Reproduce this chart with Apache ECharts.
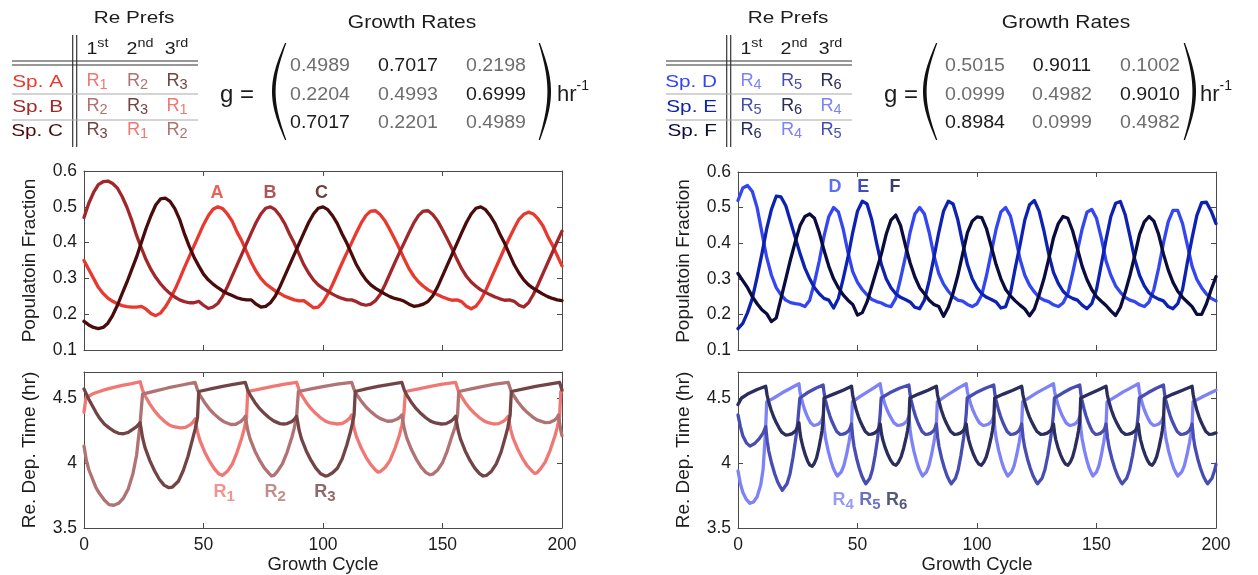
<!DOCTYPE html>
<html><head><meta charset="utf-8">
<script src="https://cdn.jsdelivr.net/npm/echarts@6/dist/echarts.min.js"></script>
<style>html,body{margin:0;padding:0;background:#fff}#c{width:1258px;height:575px}</style>
</head><body><div id="c"></div>
<script>
// ---------------- DATA ----------------
const cycles = [0,2,4,6,8,10,12,14,16,18,20,22,24,26,28,30,32,34,36,38,40,42,44,46,48,50,52,54,56,58,60,62,64,66,68,70,72,74,76,78,80,82,84,86,88,90,92,94,96,98,100,102,104,106,108,110,112,114,116,118,120,122,124,126,128,130,132,134,136,138,140,142,144,146,148,150,152,154,156,158,160,162,164,166,168,170,172,174,176,178,180,182,184,186,188,190,192,194,196,198,200];

const spA = [0.35,0.325,0.30,0.275,0.258,0.245,0.236,0.229,0.224,0.221,0.22,0.22,0.222,0.214,0.202,0.196,0.203,0.22,0.242,0.268,0.298,0.33,0.36,0.39,0.42,0.45,0.475,0.493,0.50,0.495,0.48,0.46,0.43,0.405,0.375,0.345,0.32,0.30,0.285,0.275,0.265,0.258,0.25,0.245,0.24,0.237,0.238,0.228,0.218,0.22,0.234,0.256,0.283,0.313,0.343,0.372,0.40,0.428,0.455,0.476,0.488,0.489,0.478,0.46,0.436,0.41,0.383,0.354,0.327,0.306,0.29,0.278,0.268,0.261,0.254,0.248,0.243,0.239,0.24,0.235,0.222,0.215,0.222,0.24,0.265,0.295,0.325,0.355,0.385,0.413,0.44,0.465,0.479,0.485,0.48,0.466,0.447,0.418,0.393,0.364,0.335];
const spB = [0.47,0.51,0.54,0.562,0.57,0.572,0.565,0.552,0.528,0.498,0.462,0.42,0.385,0.352,0.325,0.303,0.285,0.27,0.258,0.248,0.24,0.235,0.232,0.232,0.236,0.225,0.216,0.22,0.23,0.25,0.277,0.307,0.337,0.367,0.397,0.427,0.456,0.48,0.496,0.50,0.492,0.475,0.453,0.424,0.398,0.368,0.338,0.315,0.296,0.282,0.272,0.264,0.256,0.249,0.244,0.24,0.24,0.235,0.228,0.225,0.228,0.238,0.256,0.283,0.313,0.343,0.372,0.40,0.428,0.455,0.476,0.488,0.489,0.478,0.46,0.436,0.41,0.383,0.354,0.327,0.306,0.29,0.278,0.268,0.261,0.254,0.248,0.243,0.239,0.24,0.236,0.225,0.22,0.232,0.255,0.283,0.313,0.343,0.373,0.403,0.432];
const spC = [0.18,0.17,0.163,0.16,0.163,0.175,0.197,0.225,0.258,0.29,0.325,0.36,0.40,0.44,0.475,0.505,0.522,0.524,0.515,0.495,0.465,0.425,0.39,0.36,0.335,0.312,0.296,0.284,0.274,0.265,0.258,0.252,0.246,0.242,0.24,0.24,0.228,0.22,0.222,0.232,0.25,0.277,0.307,0.337,0.367,0.397,0.427,0.456,0.48,0.496,0.50,0.492,0.475,0.453,0.424,0.398,0.368,0.338,0.315,0.296,0.282,0.272,0.264,0.256,0.249,0.244,0.241,0.236,0.228,0.222,0.224,0.228,0.236,0.252,0.277,0.307,0.337,0.367,0.397,0.427,0.456,0.48,0.496,0.50,0.492,0.475,0.453,0.424,0.398,0.368,0.338,0.315,0.296,0.282,0.272,0.264,0.256,0.249,0.244,0.24,0.238];
const spD = [0.52,0.555,0.562,0.545,0.50,0.43,0.36,0.31,0.275,0.255,0.24,0.233,0.23,0.228,0.222,0.24,0.29,0.35,0.42,0.475,0.50,0.488,0.44,0.375,0.32,0.29,0.27,0.255,0.242,0.236,0.232,0.225,0.222,0.245,0.30,0.36,0.43,0.482,0.50,0.482,0.43,0.365,0.315,0.285,0.265,0.25,0.24,0.237,0.228,0.222,0.23,0.255,0.31,0.375,0.44,0.488,0.50,0.476,0.42,0.355,0.31,0.282,0.263,0.248,0.24,0.236,0.227,0.222,0.232,0.258,0.315,0.378,0.44,0.487,0.495,0.47,0.415,0.35,0.31,0.28,0.262,0.248,0.24,0.236,0.227,0.222,0.235,0.27,0.33,0.40,0.46,0.492,0.492,0.455,0.395,0.335,0.298,0.275,0.257,0.245,0.238];
const spE = [0.16,0.175,0.205,0.245,0.305,0.37,0.44,0.495,0.532,0.53,0.505,0.46,0.415,0.37,0.33,0.30,0.275,0.258,0.245,0.24,0.218,0.245,0.30,0.36,0.43,0.49,0.518,0.51,0.465,0.40,0.34,0.30,0.275,0.258,0.248,0.242,0.235,0.22,0.216,0.24,0.295,0.36,0.43,0.49,0.518,0.51,0.465,0.40,0.34,0.30,0.275,0.258,0.248,0.242,0.235,0.218,0.222,0.26,0.33,0.395,0.465,0.508,0.52,0.49,0.435,0.37,0.318,0.287,0.265,0.252,0.245,0.24,0.226,0.216,0.23,0.27,0.34,0.41,0.475,0.512,0.517,0.48,0.42,0.355,0.31,0.28,0.26,0.25,0.243,0.238,0.222,0.216,0.23,0.27,0.345,0.415,0.478,0.514,0.515,0.49,0.455];
const spF = [0.315,0.295,0.275,0.25,0.23,0.213,0.202,0.18,0.19,0.245,0.30,0.355,0.405,0.45,0.475,0.482,0.47,0.43,0.38,0.335,0.30,0.275,0.255,0.24,0.228,0.198,0.205,0.235,0.28,0.325,0.37,0.425,0.465,0.479,0.45,0.395,0.345,0.305,0.275,0.258,0.24,0.228,0.222,0.195,0.22,0.26,0.31,0.37,0.43,0.462,0.474,0.472,0.44,0.39,0.34,0.30,0.27,0.252,0.238,0.226,0.215,0.196,0.215,0.255,0.30,0.355,0.415,0.455,0.475,0.47,0.435,0.385,0.335,0.298,0.27,0.25,0.237,0.225,0.21,0.197,0.22,0.262,0.31,0.365,0.425,0.46,0.475,0.462,0.425,0.37,0.325,0.29,0.265,0.248,0.235,0.222,0.2,0.2,0.23,0.27,0.306];

const res1 = [[0,4.39],[0.8,4.50],[4,4.535],[8,4.56],[12,4.58],[16,4.597],[20,4.61],[23.5,4.625],[24.5,4.561],[25.5,4.519],[27.5,4.455],[29.5,4.401],[31.5,4.359],[33.5,4.323],[35.5,4.295],[37.5,4.279],[40.5,4.27],[42.5,4.274],[44.5,4.295],[45.5,4.312],[46.5,4.34],[47.5,4.239],[48.5,4.173],[50.5,4.085],[52.5,4.014],[54.5,3.957],[56.5,3.915],[57,3.90],[58,3.905],[60,3.936],[62,3.99],[64,4.08],[66,4.193],[67,4.26],[68,4.35],[68.5,4.55],[74,4.57],[79,4.59],[84,4.606],[89,4.62],[90,4.562],[91,4.524],[93,4.466],[95,4.418],[97,4.38],[99,4.348],[101,4.322],[103,4.308],[106,4.30],[108,4.304],[110,4.325],[111,4.342],[112,4.37],[113,4.269],[114,4.203],[116,4.115],[118,4.044],[120,3.987],[122,3.945],[123,3.93],[124,3.934],[126,3.965],[128,4.018],[130,4.106],[132,4.216],[133,4.29],[133.8,4.37],[134.5,4.55],[140,4.57],[145,4.59],[150,4.606],[155.5,4.62],[156.5,4.562],[157.5,4.524],[159.5,4.466],[161.5,4.418],[163.5,4.38],[165.5,4.348],[167.5,4.322],[169.5,4.308],[171.5,4.30],[173.5,4.303],[175.5,4.321],[176.5,4.336],[177.5,4.36],[178.5,4.259],[179.5,4.193],[181.5,4.105],[183.5,4.034],[185.5,3.977],[187.5,3.938],[188.5,3.92],[189.5,3.924],[191,3.955],[193,4.008],[195,4.096],[197,4.206],[198,4.272],[199,4.36],[199.5,4.55],[200,4.553]];
const res2 = [[0,4.13],[1,4.02],[2,3.95],[3.5,3.88],[5,3.81],[6.5,3.765],[8.5,3.715],[10.5,3.68],[12.5,3.675],[14.5,3.69],[16.5,3.73],[18.5,3.80],[20.5,3.92],[22,4.06],[23.5,4.31],[24.5,4.53],[30,4.555],[35,4.577],[41,4.60],[46.5,4.62],[47.5,4.561],[48.5,4.523],[50.5,4.464],[52.5,4.415],[54.5,4.376],[56.5,4.344],[58.5,4.318],[61.5,4.296],[63.5,4.298],[65.5,4.318],[66.5,4.334],[67.5,4.36],[68.5,4.254],[69.5,4.185],[71.5,4.093],[73.5,4.02],[75.5,3.96],[77.5,3.918],[78.5,3.90],[79.5,3.905],[81,3.937],[83,3.994],[85,4.084],[87,4.20],[88,4.27],[89,4.37],[89.7,4.55],[95,4.57],[100.5,4.59],[106,4.606],[112,4.62],[113,4.566],[114,4.53],[116,4.476],[118,4.431],[120,4.395],[122,4.365],[124,4.341],[127,4.321],[129,4.323],[131,4.338],[132,4.35],[133,4.37],[134,4.264],[135,4.195],[137,4.103],[139,4.03],[141,3.97],[143,3.928],[144.6,3.91],[146,3.915],[148,3.947],[150,4.002],[152,4.094],[154,4.209],[155.3,4.278],[156.3,4.37],[156.8,4.55],[162,4.57],[167,4.59],[172,4.606],[177.5,4.62],[178.5,4.564],[179.5,4.527],[181.5,4.471],[183.5,4.425],[185.5,4.388],[187.5,4.357],[189.5,4.332],[193,4.311],[195,4.313],[197,4.331],[198,4.35],[198.5,4.37],[199.5,4.25],[200,4.21]];
const res3 = [[0,4.57],[1,4.53],[2,4.49],[3.5,4.44],[5,4.39],[6.5,4.345],[8.5,4.30],[10.5,4.27],[12.5,4.245],[14.5,4.228],[16.5,4.225],[18.5,4.235],[20.5,4.26],[22,4.28],[23.5,4.31],[24.5,4.195],[25.5,4.12],[27.5,4.02],[29.5,3.94],[31.5,3.875],[33.5,3.83],[35.5,3.81],[37,3.815],[39.5,3.86],[41.5,3.94],[43.5,4.05],[45.5,4.19],[46.5,4.26],[47.5,4.35],[48,4.55],[53,4.57],[58,4.59],[62.5,4.605],[67.5,4.62],[68.5,4.562],[69.5,4.524],[71.5,4.466],[73.5,4.418],[75.5,4.38],[77.5,4.348],[79.5,4.322],[82,4.303],[83.5,4.30],[85,4.303],[87,4.32],[88,4.336],[89,4.36],[90,4.254],[91,4.185],[93,4.093],[95,4.02],[97,3.96],[99,3.918],[101,3.90],[102,3.903],[104,3.925],[106,3.96],[108,4.03],[110,4.14],[111.5,4.24],[112.5,4.32],[113,4.37],[113.5,4.55],[118,4.57],[123,4.59],[128,4.605],[133,4.62],[134,4.562],[135,4.524],[137,4.466],[139,4.418],[141,4.38],[143,4.348],[145,4.322],[147,4.308],[149.5,4.30],[151.5,4.303],[153.5,4.321],[154.5,4.336],[155.5,4.36],[156.5,4.254],[157.5,4.185],[159.5,4.093],[161.5,4.02],[163.5,3.96],[165.5,3.918],[167,3.90],[168.5,3.905],[170.5,3.937],[172.5,3.994],[174.5,4.084],[176.3,4.20],[177.3,4.27],[178.3,4.37],[178.8,4.55],[184,4.57],[189,4.59],[194,4.605],[199,4.62],[200,4.562]];
const res4 = [[0,3.94],[1,3.84],[2,3.775],[3.5,3.72],[5,3.69],[6.5,3.70],[8,3.74],[9.5,3.83],[10.5,3.95],[11.2,4.15],[11.6,4.28],[12,4.47],[15,4.50],[18.5,4.54],[22,4.575],[25.5,4.61],[25.9,4.552],[26.31,4.514],[27.12,4.456],[27.92,4.408],[28.73,4.37],[29.54,4.338],[30.35,4.309],[31.56,4.29],[32.57,4.292],[33.58,4.298],[34.59,4.315],[35.1,4.332],[35.6,4.36],[36.14,4.254],[36.67,4.185],[37.74,4.093],[38.81,4.02],[39.88,3.96],[40.96,3.918],[41.55,3.90],[42.15,3.904],[43.22,3.932],[44.29,3.98],[45.36,4.06],[46.43,4.16],[46.96,4.22],[47.5,4.30],[47.9,4.47],[51,4.51],[54,4.545],[57,4.58],[59.5,4.61],[59.98,4.552],[60.46,4.514],[61.42,4.456],[62.38,4.408],[63.34,4.37],[64.3,4.338],[65.26,4.309],[66.7,4.29],[67.9,4.292],[69.1,4.298],[70.3,4.315],[70.9,4.332],[71.5,4.36],[72.02,4.254],[72.54,4.185],[73.57,4.093],[74.61,4.02],[75.64,3.96],[76.68,3.918],[77.25,3.90],[77.83,3.904],[78.86,3.932],[79.9,3.98],[80.93,4.06],[81.97,4.16],[82.48,4.22],[83,4.30],[83.4,4.47],[86.5,4.51],[89.5,4.545],[92.5,4.58],[95.5,4.61],[95.96,4.552],[96.42,4.514],[97.34,4.456],[98.26,4.408],[99.18,4.37],[100.1,4.338],[101.02,4.309],[102.4,4.29],[103.55,4.292],[104.7,4.298],[105.85,4.315],[106.43,4.332],[107,4.36],[107.53,4.254],[108.05,4.185],[109.11,4.093],[110.16,4.02],[111.21,3.96],[112.27,3.918],[112.85,3.90],[113.44,3.904],[114.49,3.932],[115.54,3.98],[116.59,4.06],[117.65,4.16],[118.17,4.22],[118.7,4.30],[119.1,4.47],[122.5,4.51],[125.5,4.545],[129,4.58],[132,4.61],[132.44,4.552],[132.88,4.514],[133.76,4.456],[134.64,4.408],[135.52,4.37],[136.4,4.338],[137.28,4.309],[138.6,4.29],[139.7,4.292],[140.8,4.298],[141.9,4.315],[142.45,4.332],[143,4.36],[143.5,4.254],[143.99,4.185],[144.98,4.093],[145.97,4.02],[146.96,3.96],[147.95,3.918],[148.5,3.90],[149.05,3.904],[150.04,3.932],[151.03,3.98],[152.02,4.06],[153.01,4.16],[153.51,4.22],[154,4.30],[154.4,4.47],[158,4.51],[161,4.545],[164.5,4.58],[167.5,4.61],[167.92,4.552],[168.34,4.514],[169.18,4.456],[170.02,4.408],[170.86,4.37],[171.7,4.338],[172.54,4.309],[173.8,4.29],[174.85,4.292],[175.9,4.298],[176.95,4.315],[177.48,4.332],[178,4.36],[178.54,4.254],[179.08,4.185],[180.16,4.093],[181.24,4.02],[182.32,3.96],[183.4,3.918],[184,3.90],[184.6,3.904],[185.68,3.932],[186.76,3.98],[187.84,4.06],[188.92,4.16],[189.46,4.22],[190,4.30],[190.4,4.47],[195,4.515],[200,4.56]];
const res5 = [[0,4.37],[1,4.28],[2,4.21],[3.5,4.155],[5,4.13],[7,4.15],[9,4.19],[10.5,4.23],[11.6,4.28],[12.23,4.167],[12.85,4.094],[14.1,3.996],[15.35,3.917],[16.6,3.854],[17.86,3.81],[18.55,3.79],[19.25,3.796],[20.5,3.84],[21.75,3.916],[23.0,4.042],[24.25,4.2],[24.88,4.294],[25.5,4.42],[25.9,4.50],[29,4.54],[32.5,4.575],[35.6,4.60],[36.08,4.532],[36.55,4.486],[37.5,4.418],[38.46,4.361],[39.41,4.315],[40.36,4.277],[41.31,4.243],[42.74,4.22],[43.93,4.222],[45.12,4.23],[46.31,4.248],[46.91,4.268],[47.5,4.30],[48.04,4.194],[48.58,4.125],[49.66,4.033],[50.74,3.96],[51.82,3.90],[52.9,3.858],[53.5,3.84],[54.1,3.845],[55.18,3.883],[56.26,3.948],[57.34,4.056],[58.42,4.191],[58.96,4.272],[59.5,4.38],[59.9,4.50],[63.5,4.54],[67.5,4.575],[71.5,4.60],[71.96,4.532],[72.42,4.486],[73.34,4.418],[74.26,4.361],[75.18,4.315],[76.1,4.277],[77.02,4.243],[78.4,4.22],[79.55,4.222],[80.7,4.23],[81.85,4.248],[82.43,4.268],[83,4.30],[83.56,4.194],[84.13,4.125],[85.25,4.033],[86.38,3.96],[87.5,3.90],[88.63,3.858],[89.25,3.84],[89.88,3.845],[91,3.883],[92.13,3.948],[93.25,4.056],[94.38,4.191],[94.94,4.272],[95.5,4.38],[95.9,4.50],[99.5,4.54],[103.5,4.575],[107,4.60],[107.47,4.532],[107.94,4.486],[108.87,4.418],[109.81,4.361],[110.74,4.315],[111.68,4.277],[112.62,4.243],[114.02,4.22],[115.19,4.222],[116.36,4.23],[117.53,4.248],[118.12,4.268],[118.7,4.30],[119.3,4.194],[119.9,4.125],[121.09,4.033],[122.29,3.96],[123.49,3.90],[124.69,3.858],[125.35,3.84],[126.02,3.845],[127.21,3.883],[128.41,3.948],[129.61,4.056],[130.8,4.191],[131.4,4.272],[132,4.38],[132.4,4.50],[136,4.54],[139.5,4.575],[143,4.60],[143.44,4.532],[143.88,4.486],[144.76,4.418],[145.64,4.361],[146.52,4.315],[147.4,4.277],[148.28,4.243],[149.6,4.22],[150.7,4.222],[151.8,4.23],[152.9,4.248],[153.45,4.268],[154,4.30],[154.61,4.194],[155.22,4.125],[156.43,4.033],[157.65,3.96],[158.86,3.90],[160.08,3.858],[160.75,3.84],[161.43,3.845],[162.64,3.883],[163.86,3.948],[165.07,4.056],[166.29,4.191],[166.89,4.272],[167.5,4.38],[167.9,4.50],[171.5,4.54],[175,4.575],[178,4.60],[178.48,4.532],[178.96,4.486],[179.92,4.418],[180.88,4.361],[181.84,4.315],[182.8,4.277],[183.76,4.243],[185.2,4.22],[186.4,4.222],[187.6,4.23],[188.8,4.248],[189.4,4.268],[190,4.30],[190.59,4.194],[191.17,4.125],[192.34,4.033],[193.51,3.96],[194.68,3.90],[195.85,3.858],[196.5,3.84],[197.15,3.845],[198.32,3.883],[199.49,3.948],[200,3.99]];
const res6 = [[0,4.45],[1.5,4.50],[4,4.53],[8,4.565],[11.6,4.59],[12.16,4.523],[12.71,4.478],[13.82,4.41],[14.94,4.354],[16.05,4.309],[17.16,4.271],[18.27,4.238],[19.94,4.215],[21.33,4.218],[22.72,4.226],[24.11,4.248],[24.81,4.272],[25.5,4.31],[25.95,4.232],[26.41,4.181],[27.32,4.113],[28.23,4.058],[29.14,4.014],[30.05,3.984],[30.55,3.97],[31.06,3.974],[31.96,3.998],[32.87,4.04],[33.78,4.11],[34.69,4.198],[35.15,4.25],[35.6,4.32],[36,4.50],[40,4.53],[44,4.56],[47.5,4.59],[47.98,4.523],[48.46,4.479],[49.42,4.412],[50.38,4.357],[51.34,4.313],[52.3,4.276],[53.26,4.242],[54.7,4.22],[55.9,4.222],[57.1,4.23],[58.3,4.248],[58.9,4.268],[59.5,4.30],[60.04,4.226],[60.58,4.178],[61.66,4.114],[62.74,4.063],[63.82,4.022],[64.9,3.993],[65.5,3.98],[66.1,3.983],[67.18,4.007],[68.26,4.048],[69.34,4.116],[70.42,4.201],[70.96,4.252],[71.5,4.32],[71.9,4.50],[75.5,4.53],[79.5,4.56],[83,4.59],[83.5,4.523],[84,4.479],[85,4.412],[86,4.357],[87,4.313],[88,4.276],[89,4.242],[90.5,4.22],[91.75,4.222],[93,4.23],[94.25,4.248],[94.88,4.268],[95.5,4.30],[96.02,4.226],[96.54,4.178],[97.57,4.114],[98.61,4.063],[99.64,4.022],[100.68,3.993],[101.25,3.98],[101.83,3.983],[102.86,4.007],[103.9,4.048],[104.93,4.116],[105.97,4.201],[106.48,4.252],[107,4.32],[107.4,4.50],[111,4.53],[115,4.56],[118.7,4.59],[119.23,4.523],[119.76,4.479],[120.83,4.412],[121.89,4.357],[122.96,4.313],[124.02,4.276],[125.08,4.242],[126.68,4.22],[128.01,4.222],[129.34,4.23],[130.67,4.248],[131.34,4.268],[132,4.30],[132.5,4.226],[132.99,4.178],[133.98,4.114],[134.97,4.063],[135.96,4.022],[136.95,3.993],[137.5,3.98],[138.05,3.983],[139.04,4.007],[140.03,4.048],[141.02,4.116],[142.01,4.201],[142.51,4.252],[143,4.32],[143.4,4.50],[147,4.53],[150.5,4.56],[154,4.59],[154.54,4.523],[155.08,4.479],[156.16,4.412],[157.24,4.357],[158.32,4.313],[159.4,4.276],[160.48,4.242],[162.1,4.22],[163.45,4.222],[164.8,4.23],[166.15,4.248],[166.83,4.268],[167.5,4.30],[167.97,4.226],[168.45,4.178],[169.39,4.114],[170.34,4.063],[171.28,4.022],[172.23,3.993],[172.75,3.98],[173.28,3.983],[174.22,4.007],[175.17,4.048],[176.11,4.116],[177.06,4.201],[177.53,4.252],[178,4.32],[178.4,4.50],[182,4.53],[186,4.56],[190,4.59],[190.48,4.523],[190.96,4.479],[191.92,4.412],[192.88,4.357],[193.84,4.313],[194.8,4.276],[195.76,4.242],[197.2,4.22],[198.4,4.222],[199.6,4.23],[200,4.232]];

const speciesLeft = ['A','B','C'];
const speciesRight = ['D','E','F'];
const prefsLeft = [['1','2','3'],['2','3','1'],['3','1','2']];
const prefsRight = [['4','5','6'],['5','6','4'],['6','4','5']];
const prefHeaders = [['1','st'],['2','nd'],['3','rd']];
const ratesLeft = [['0.4989','0.7017','0.2198'],['0.2204','0.4993','0.6999'],['0.7017','0.2201','0.4989']];
const ratesRight = [['0.5015','0.9011','0.1002'],['0.0999','0.4982','0.9010'],['0.8984','0.0999','0.4982']];
const ratesLeftDark = [[0,1,0],[0,0,1],[1,0,0]];
const ratesRightDark = [[0,1,0],[0,0,1],[1,0,0]];
const labelsTopLeft = [['A',55.6,0.539],['B',77.8,0.539],['C',99.4,0.539]];
const labelsTopRight = [['D',40.6,0.557],['E',52.4,0.557],['F',65.7,0.557]];
const labelsBotLeft = [['1',58.6,3.776],['2',80,3.776],['3',100.8,3.776]];
const labelsBotRight = [['4',44,3.714],['5',55.2,3.714],['6',66.4,3.714]];

// ---------------- STYLE ----------------
const FONT = '"Liberation Sans", Arial, Helvetica, sans-serif';
const TXT = '#1c1c1c';
const GRAY = '#6e6e6e';
const spColor = {A:'#e9382e', B:'#a3272a', C:'#4a0b0c', D:'#3446f2', E:'#0e22b2', F:'#0b0c3e'};
const resColor = {'1':'#f07773', '2':'#b07272', '3':'#734445', '4':'#7d82f6', '5':'#484db2', '6':'#2b2d5c'};
const AX = '#4a4a4a';
const LW = 3.3;
const SX = 1.22; // horizontal stretch of the header text

const chart = echarts.init(document.getElementById('c'), null, {renderer:'canvas'});

const grids = [
  {left:84, top:171, width:478, height:179},
  {left:84, top:372, width:478, height:160},
  {left:738, top:172, width:478, height:178},
  {left:738, top:372, width:478, height:160}
];
const xAxes = [], yAxes = [];
function addAxes(gi, yMin, yMax, yInt, showXLabels, yName, yFmt) {
  const common = {type:'value', gridIndex:gi, axisLine:{show:true, onZero:false, lineStyle:{color:AX, width:1}},
    axisTick:{show:true, inside:true, length:5, lineStyle:{color:AX}}, splitLine:{show:false}};
  xAxes.push(Object.assign({}, common, {position:'bottom', min:0, max:200, interval:50,
    axisLabel:{show:showXLabels, color:TXT, fontSize:17.5, fontFamily:FONT, margin:8},
    name: showXLabels ? 'Growth Cycle' : '', nameLocation:'middle', nameGap:27,
    nameTextStyle:{color:TXT, fontSize:18.5, fontFamily:FONT}}));
  xAxes.push(Object.assign({}, common, {position:'top', min:0, max:200, interval:50, axisLabel:{show:false}}));
  yAxes.push(Object.assign({}, common, {position:'left', min:yMin, max:yMax, interval:yInt,
    axisLabel:{show:true, color:TXT, fontSize:17.5, fontFamily:FONT, margin:7, showMaxLabel: yMax===0.6, formatter:yFmt},
    name:yName, nameLocation:'middle', nameGap:45, nameRotate:90,
    nameTextStyle:{color:TXT, fontSize:19, fontFamily:FONT}}));
  yAxes.push(Object.assign({}, common, {position:'right', min:yMin, max:yMax, interval:yInt, axisLabel:{show:false}}));
}
const fmt1 = v => v.toFixed(1);
const fmtB = v => (Math.abs(v-Math.round(v))<1e-9 ? String(Math.round(v)) : v.toFixed(1));
addAxes(0, 0.1, 0.6, 0.1, false, 'Populatoin Fraction', fmt1);
addAxes(1, 3.5, 4.7, 0.5, true, 'Re. Dep. Time (hr)', fmtB);
addAxes(2, 0.1, 0.6, 0.1, false, 'Populatoin Fraction', fmt1);
addAxes(3, 3.5, 4.7, 0.5, true, 'Re. Dep. Time (hr)', fmtB);

const series = [];
function lineSeries(gi, data, color) {
  series.push({type:'line', xAxisIndex:2*gi, yAxisIndex:2*gi, data, showSymbol:false, symbol:'none',
    smooth:false, lineStyle:{color, width:LW, cap:'round', join:'round'}, silent:true, animation:false, clip:true});
}
lineSeries(0, cycles.map((x,i)=>[x, spA[i]]), spColor.A);
lineSeries(0, cycles.map((x,i)=>[x, spB[i]]), spColor.B);
lineSeries(0, cycles.map((x,i)=>[x, spC[i]]), spColor.C);
lineSeries(1, res1, resColor['1']);
lineSeries(1, res2, resColor['2']);
lineSeries(1, res3, resColor['3']);
lineSeries(2, cycles.map((x,i)=>[x, spD[i]]), spColor.D);
lineSeries(2, cycles.map((x,i)=>[x, spE[i]]), spColor.E);
lineSeries(2, cycles.map((x,i)=>[x, spF[i]]), spColor.F);
lineSeries(3, res4, resColor['4']);
lineSeries(3, res5, resColor['5']);
lineSeries(3, res6, resColor['6']);

function labelSeries(gi, items, isRes) {
  series.push({type:'scatter', xAxisIndex:2*gi, yAxisIndex:2*gi, symbolSize:0, silent:true, animation:false,
    data: items.map(it => {
      const color = isRes ? resColor[it[0]] : spColor[it[0]];
      return {value:[it[1], it[2]], label:{show:true, position:'inside',
        formatter: isRes ? '{m|R}{s|' + it[0] + '}' : '{m|' + it[0] + '}',
        rich:{m:{color, fontSize:18, fontWeight:'bold', fontFamily:FONT},
              s:{color, fontSize:15, fontWeight:'bold', fontFamily:FONT, padding:[9,0,0,0]}}}};
    })});
}
labelSeries(0, labelsTopLeft, false);
labelSeries(1, labelsBotLeft, true);
labelSeries(2, labelsTopRight, false);
labelSeries(3, labelsBotRight, true);

// ---------------- GRAPHIC (tables / matrices) ----------------
const G = [];
function txt(x, y, text, o, sx) {
  G.push({type:'text', x, y, scaleX: sx || 1, silent:true, style:Object.assign({text, fill:TXT, fontSize:17, fontFamily:FONT,
    align:'center', verticalAlign:'middle'}, o||{})});
}
function ln(x1,y1,x2,y2,color,w) {
  G.push({type:'line', silent:true, shape:{x1,y1,x2,y2}, style:{stroke:color, lineWidth:w}});
}
function paren(xTip, xBulge, top, bottom, thick) {
  const n = 40, pts = [], dir = Math.sign(xBulge - xTip);
  for (let i=0;i<=n;i++){ const t=i/n; pts.push([xTip + (xBulge-xTip)*Math.sin(Math.PI*t), top + (bottom-top)*t]); }
  const inTip = xTip - dir*1.3, inB = xBulge - dir*thick;
  for (let i=n;i>=0;i--){ const t=i/n; pts.push([inTip + (inB-inTip)*Math.sin(Math.PI*t), top + (bottom-top)*t]); }
  G.push({type:'polygon', silent:true, shape:{points:pts}, style:{fill:'#111'}});
}
function subStyle(color) {
  return {m:{fill:color, fontSize:17.5, fontFamily:FONT},
          s:{fill:color, fontSize:14, fontFamily:FONT, padding:[8,0,0,0]}};
}
function table(dx, species, prefs) {
  txt(134+dx, 18, 'Re Prefs', {fontSize:17}, SX);
  const hx = [97.5, 140, 176.5];
  prefHeaders.forEach((h,i)=> txt(hx[i]+dx, 49, '{m|'+h[0]+'}{u|'+h[1]+'}', {rich:{
    m:{fill:TXT, fontSize:17, fontFamily:FONT}, u:{fill:TXT, fontSize:12.5, fontFamily:FONT, padding:[0,0,10,0]}}}, 1.15));
  ln(72.7+dx, 35, 72.7+dx, 147, '#333', 1.2);
  ln(76.7+dx, 35, 76.7+dx, 147, '#333', 1.2);
  ln(12+dx, 61, 198+dx, 61, '#333', 1.2);
  ln(12+dx, 65, 198+dx, 65, '#333', 1.2);
  ln(12+dx, 94, 198+dx, 94, '#a8a8a8', 1);
  ln(12+dx, 120, 198+dx, 120, '#a8a8a8', 1);
  const ry = [82, 107, 131], cx = [97, 137.5, 177];
  species.forEach((s,r)=>{
    txt(63+dx, ry[r], 'Sp. ' + s, {align:'right', fill:spColor[s], fontSize:17}, SX);
    prefs[r].forEach((p,c)=> txt(cx[c]+dx, ry[r]-1, '{m|R}{s|'+p+'}', {rich:subStyle(resColor[p])}, 1.04));
  });
}
table(0, speciesLeft, prefsLeft);
table(654, speciesRight, prefsRight);

function matrix(cfg, rates, dark) {
  txt(cfg.title, 23, 'Growth Rates', {fontSize:17.5}, 1.2);
  txt(cfg.gRight, 95, 'g =', {align:'right', fontSize:24});
  paren(cfg.pl[0], cfg.pl[1], 43, 140, 3.6);
  paren(cfg.pr[0], cfg.pr[1], 43, 140, 3.6);
  const ry = [66, 95, 123];
  rates.forEach((row,r)=> row.forEach((v,c)=> txt(cfg.cols[c], ry[r], v, {fontSize:17.5, fill: dark[r][c] ? TXT : GRAY}, 1.12)));
  txt(cfg.hr, 95, '{m|hr}{u|-1}', {align:'left', rich:{m:{fill:TXT, fontSize:22, fontFamily:FONT},
    u:{fill:TXT, fontSize:14, fontFamily:FONT, padding:[0,0,18,0]}}});
}
matrix({title:412, gRight:254, pl:[285,272], pr:[540,551], cols:[320,408,496], hr:557}, ratesLeft, ratesLeftDark);
matrix({title:1066, gRight:918, pl:[936,923], pr:[1185,1196], cols:[975,1062,1150], hr:1200}, ratesRight, ratesRightDark);

chart.setOption({
  animation:false,
  backgroundColor:'#ffffff',
  textStyle:{fontFamily:FONT},
  grid: grids,
  xAxis: xAxes,
  yAxis: yAxes,
  series,
  graphic: {elements: G}
});
</script>
</body></html>
